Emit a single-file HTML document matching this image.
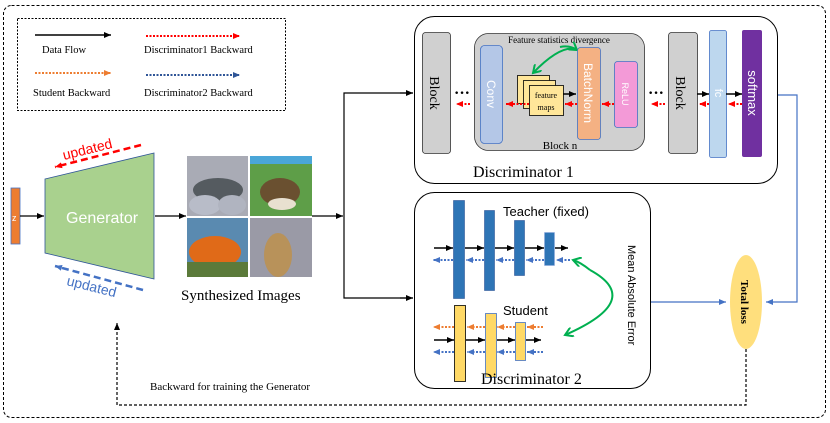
<!DOCTYPE html>
<html><head><meta charset="utf-8"><style>
body{margin:0;background:#fff}
svg{display:block}
text{font-family:"Liberation Serif",serif}
.s{font-family:"Liberation Sans","DejaVu Sans",sans-serif}
</style></head><body>
<svg width="830" height="423" viewBox="0 0 830 423" xmlns="http://www.w3.org/2000/svg">
<defs>
<marker id="ak" markerWidth="8" markerHeight="8" refX="7" refY="4" orient="auto" markerUnits="userSpaceOnUse"><path d="M0,1 L7,4 L0,7z" fill="#000"/></marker>
<marker id="ar" markerWidth="8" markerHeight="8" refX="7" refY="4" orient="auto" markerUnits="userSpaceOnUse"><path d="M0,1 L7,4 L0,7z" fill="#f00"/></marker>
<marker id="ao" markerWidth="8" markerHeight="8" refX="7" refY="4" orient="auto" markerUnits="userSpaceOnUse"><path d="M0,1 L7,4 L0,7z" fill="#ed7d31"/></marker>
<marker id="ab" markerWidth="8" markerHeight="8" refX="7" refY="4" orient="auto" markerUnits="userSpaceOnUse"><path d="M0,1 L7,4 L0,7z" fill="#4472c4"/></marker>
<marker id="ad" markerWidth="8" markerHeight="8" refX="7" refY="4" orient="auto" markerUnits="userSpaceOnUse"><path d="M0,1 L7,4 L0,7z" fill="#2f5597"/></marker>
<marker id="ag" markerWidth="10" markerHeight="10" refX="8" refY="5" orient="auto" markerUnits="userSpaceOnUse"><path d="M0,0 L8,5 L0,10" fill="none" stroke="#00b050" stroke-width="2"/></marker>
</defs>
<rect x="3.5" y="5.5" width="822" height="412" rx="8" fill="none" stroke="#000" stroke-dasharray="3,2"/>
<rect x="17.5" y="18.5" width="268" height="92" fill="none" stroke="#000" stroke-dasharray="2,1.5"/>
<line x1="35" y1="35" x2="111" y2="35" stroke="#000" stroke-width="1.5" marker-end="url(#ak)"/>
<text x="42" y="53" font-size="10.5">Data Flow</text>
<line x1="146" y1="36" x2="240" y2="36" stroke="#f00" stroke-width="2" stroke-dasharray="2,1.5" marker-end="url(#ar)"/>
<text x="144" y="53" font-size="10.5">Discriminator1 Backward</text>
<line x1="35" y1="73" x2="111" y2="73" stroke="#ed7d31" stroke-width="2" stroke-dasharray="2,1.5" marker-end="url(#ao)"/>
<text x="33" y="96" font-size="10.5">Student Backward</text>
<line x1="146" y1="75" x2="240" y2="75" stroke="#2f5597" stroke-width="2" stroke-dasharray="2,1.5" marker-end="url(#ad)"/>
<text x="144" y="96" font-size="10.5">Discriminator2 Backward</text>
<rect x="11" y="188" width="9" height="56" fill="#ed7d31" stroke="#4472c4" stroke-width="0.8"/>
<text x="12" y="221" font-size="9" fill="#fff" class="s">z</text>
<line x1="20" y1="216" x2="44" y2="216" stroke="#000" stroke-width="1.2" marker-end="url(#ak)"/>
<polygon points="45,179 154,153 154,279 45,253" fill="#a9d18e" stroke="#2f5597" stroke-width="0.8"/>
<text x="66" y="223" font-size="16" fill="#fff" class="s">Generator</text>
<line x1="141" y1="145" x2="55" y2="167" stroke="#f00" stroke-width="2.5" stroke-dasharray="7,4" marker-end="url(#ar)"/>
<text x="64" y="160" font-size="14" fill="#f00" class="s" transform="rotate(-14 64 160)">updated</text>
<line x1="143" y1="290" x2="55" y2="266" stroke="#4472c4" stroke-width="2.5" stroke-dasharray="7,4" marker-end="url(#ab)"/>
<text x="66" y="285" font-size="14" fill="#4472c4" class="s" transform="rotate(14 66 285)">updated</text>
<line x1="155" y1="216" x2="186" y2="216" stroke="#000" stroke-width="1.2" marker-end="url(#ak)"/>
<rect x="187" y="156" width="61" height="60" fill="#a9abb5"/>
<ellipse cx="218" cy="190" rx="25" ry="12" fill="#555b60"/><ellipse cx="205" cy="205" rx="16" ry="10" fill="#b8bcc8"/><ellipse cx="232" cy="205" rx="14" ry="10" fill="#b0b4c0"/>
<rect x="250" y="156" width="62" height="60" fill="#5e9e48"/>
<rect x="250" y="156" width="62" height="8" fill="#4aa6d8"/>
<ellipse cx="280" cy="192" rx="20" ry="14" fill="#6a5030"/><ellipse cx="282" cy="204" rx="14" ry="6" fill="#e8e0d0"/>
<rect x="187" y="218" width="61" height="59" fill="#5a8ab0"/>
<ellipse cx="215" cy="252" rx="26" ry="16" fill="#e06a18"/><rect x="187" y="262" width="61" height="15" fill="#5b7a3a"/>
<rect x="250" y="218" width="62" height="59" fill="#9a9aa6"/>
<ellipse cx="278" cy="255" rx="14" ry="22" fill="#b8925a"/>
<text x="181" y="300" font-size="15">Synthesized Images</text>
<polyline points="312,216 343,216" fill="none" stroke="#000" stroke-width="1.2" marker-end="url(#ak)"/>
<polyline points="413,93 344,93 344,298 413,298" fill="none" stroke="#000" stroke-width="1.2"/>
<line x1="400" y1="93" x2="413" y2="93" stroke="#000" stroke-width="1.2" marker-end="url(#ak)"/>
<line x1="400" y1="298" x2="413" y2="298" stroke="#000" stroke-width="1.2" marker-end="url(#ak)"/>
<rect x="414.5" y="16.5" width="363" height="167" rx="20" fill="#fff" stroke="#000"/>
<rect x="422.5" y="32.5" width="28" height="121" rx="3" fill="#d0d0d0" stroke="#333" stroke-width="0.8"/>
<text transform="translate(430 93) rotate(90)" font-size="14" text-anchor="middle">Block</text>
<text x="454" y="98" font-size="16" font-weight="bold">···</text>
<line x1="470" y1="104" x2="456" y2="104" stroke="#f00" stroke-width="2" stroke-dasharray="2,1.5" marker-end="url(#ar)"/>
<rect x="474.5" y="33.5" width="170" height="117" rx="14" fill="#d0d0d0" stroke="#333" stroke-width="0.8"/>
<text x="559" y="43" font-size="9" text-anchor="middle">Feature statistics divergence</text>
<rect x="480.5" y="45.5" width="22" height="98" rx="4" fill="#b4c7e7" stroke="#4472c4" stroke-width="0.8"/>
<text transform="translate(487 94) rotate(90)" font-size="12" fill="#fff" text-anchor="middle" class="s">Conv</text>
<rect x="517.5" y="75.5" width="32" height="28" fill="#ffe699" stroke="#000" stroke-width="0.8"/>
<rect x="523.5" y="80.5" width="32" height="28" fill="#ffe699" stroke="#000" stroke-width="0.8"/>
<rect x="529.5" y="85.5" width="34" height="30" fill="#ffe699" stroke="#000" stroke-width="0.8"/>
<text x="546" y="98" font-size="8" text-anchor="middle">feature</text>
<text x="546" y="110" font-size="8" text-anchor="middle">maps</text>
<line x1="563" y1="94" x2="576" y2="94" stroke="#000" stroke-width="1.5" marker-end="url(#ak)"/>
<line x1="529" y1="104" x2="506" y2="104" stroke="#f00" stroke-width="2" stroke-dasharray="2,1.5" marker-end="url(#ar)"/>
<line x1="577" y1="104" x2="565" y2="104" stroke="#f00" stroke-width="2" stroke-dasharray="2,1.5" marker-end="url(#ar)"/>
<line x1="614" y1="104" x2="602" y2="104" stroke="#f00" stroke-width="2" stroke-dasharray="2,1.5" marker-end="url(#ar)"/>
<path d="M576,49 Q560,45 533,73" fill="none" stroke="#00b050" stroke-width="2" marker-end="url(#ag)"/>
<path d="M560,47 Q570,45 577,50" fill="none" stroke="#00b050" stroke-width="2" marker-end="url(#ag)"/>
<rect x="577.5" y="47.5" width="23" height="92" rx="3" fill="#f4b183" stroke="#4472c4" stroke-width="0.8"/>
<text transform="translate(584 93) rotate(90)" font-size="12" fill="#fff" text-anchor="middle" class="s">BatchNorm</text>
<rect x="614.5" y="61.5" width="23" height="66" rx="3" fill="#f39ad7" stroke="#4472c4" stroke-width="0.8"/>
<text transform="translate(622 94) rotate(90)" font-size="9" fill="#fff" text-anchor="middle" class="s">ReLU</text>
<text x="560" y="149" font-size="11" text-anchor="middle">Block n</text>
<text x="648" y="98" font-size="16" font-weight="bold">···</text>
<line x1="665" y1="104" x2="651" y2="104" stroke="#f00" stroke-width="2" stroke-dasharray="2,1.5" marker-end="url(#ar)"/>
<rect x="668.5" y="32.5" width="29" height="121" rx="3" fill="#d0d0d0" stroke="#333" stroke-width="0.8"/>
<text transform="translate(676 93) rotate(90)" font-size="14" text-anchor="middle">Block</text>
<line x1="697" y1="94" x2="709" y2="94" stroke="#000" stroke-width="1.5" marker-end="url(#ak)"/>
<line x1="709" y1="104" x2="699" y2="104" stroke="#f00" stroke-width="2" stroke-dasharray="2,1.5" marker-end="url(#ar)"/>
<rect x="709.5" y="30.5" width="17" height="127" rx="2" fill="#bdd7ee" stroke="#4472c4" stroke-width="0.8"/>
<text transform="translate(715 93) rotate(90)" font-size="11" fill="#fff" text-anchor="middle" class="s">fc</text>
<line x1="726" y1="94" x2="742" y2="94" stroke="#000" stroke-width="1.5" marker-end="url(#ak)"/>
<line x1="742" y1="104" x2="728" y2="104" stroke="#f00" stroke-width="2" stroke-dasharray="2,1.5" marker-end="url(#ar)"/>
<rect x="742" y="30" width="20" height="127" rx="2" fill="#7030a0"/>
<text transform="translate(748 93) rotate(90)" font-size="13" fill="#fff" text-anchor="middle" class="s">softmax</text>
<text x="473" y="177" font-size="16">Discriminator 1</text>
<rect x="414.5" y="192.5" width="236" height="196" rx="20" fill="#fff" stroke="#000"/>
<text x="503" y="216" font-size="13" class="s">Teacher (fixed)</text>
<rect x="453.5" y="200.5" width="11" height="98" fill="#2e75b6" stroke="#2f5597" stroke-width="0.6"/>
<rect x="484.5" y="210.5" width="10" height="80" fill="#2e75b6" stroke="#2f5597" stroke-width="0.6"/>
<rect x="514.5" y="220.5" width="10" height="55" fill="#2e75b6" stroke="#2f5597" stroke-width="0.6"/>
<rect x="544.5" y="232.5" width="10" height="33" fill="#2e75b6" stroke="#8faadc" stroke-width="0.6"/>
<g stroke="#000" stroke-width="1.5">
<line x1="434" y1="248" x2="453" y2="248" marker-end="url(#ak)"/><line x1="465" y1="248" x2="484" y2="248" marker-end="url(#ak)"/><line x1="495" y1="248" x2="514" y2="248" marker-end="url(#ak)"/><line x1="525" y1="248" x2="544" y2="248" marker-end="url(#ak)"/><line x1="555" y1="248" x2="568" y2="248" marker-end="url(#ak)"/>
</g>
<g stroke="#4472c4" stroke-width="2" stroke-dasharray="2,1.5">
<line x1="453" y1="260" x2="433" y2="260" marker-end="url(#ab)"/><line x1="484" y1="260" x2="466" y2="260" marker-end="url(#ab)"/><line x1="514" y1="260" x2="496" y2="260" marker-end="url(#ab)"/><line x1="544" y1="260" x2="526" y2="260" marker-end="url(#ab)"/><line x1="570" y1="260" x2="556" y2="260" marker-end="url(#ab)"/>
</g>
<text x="503" y="315" font-size="13" class="s">Student</text>
<rect x="454.5" y="305.5" width="11" height="76" fill="#ffd966" stroke="#000" stroke-width="0.8"/>
<rect x="485.5" y="313.5" width="11" height="64" fill="#ffd966" stroke="#4472c4" stroke-width="0.8"/>
<rect x="515.5" y="322.5" width="10" height="38" fill="#ffd966" stroke="#4472c4" stroke-width="0.8"/>
<g stroke="#ed7d31" stroke-width="2" stroke-dasharray="2,1.5">
<line x1="454" y1="327" x2="433" y2="327" marker-end="url(#ao)"/><line x1="485" y1="327" x2="467" y2="327" marker-end="url(#ao)"/><line x1="515" y1="327" x2="497" y2="327" marker-end="url(#ao)"/><line x1="543" y1="327" x2="527" y2="327" marker-end="url(#ao)"/>
</g>
<g stroke="#000" stroke-width="1.5">
<line x1="434" y1="340" x2="454" y2="340" marker-end="url(#ak)"/><line x1="466" y1="340" x2="485" y2="340" marker-end="url(#ak)"/><line x1="497" y1="340" x2="515" y2="340" marker-end="url(#ak)"/><line x1="526" y1="340" x2="541" y2="340" marker-end="url(#ak)"/>
</g>
<g stroke="#4472c4" stroke-width="2" stroke-dasharray="2,1.5">
<line x1="454" y1="352" x2="433" y2="352" marker-end="url(#ab)"/><line x1="485" y1="352" x2="467" y2="352" marker-end="url(#ab)"/><line x1="515" y1="352" x2="497" y2="352" marker-end="url(#ab)"/><line x1="543" y1="352" x2="527" y2="352" marker-end="url(#ab)"/>
</g>
<path d="M590,270 Q645,300 565,335" fill="none" stroke="#00b050" stroke-width="2" marker-end="url(#ag)"/>
<path d="M590,270 Q580,262 573,260" fill="none" stroke="#00b050" stroke-width="2" marker-end="url(#ag)"/>
<text transform="translate(628 245) rotate(90)" font-size="11" class="s">Mean Absolute Error</text>
<text x="481" y="384" font-size="16">Discriminator 2</text>
<line x1="651" y1="302" x2="726" y2="302" stroke="#4472c4" stroke-width="1.2" marker-end="url(#ab)"/>
<polyline points="778,95 797,95 797,302 766,302" fill="none" stroke="#4472c4" stroke-width="1.2" marker-end="url(#ab)"/>
<ellipse cx="746" cy="302" rx="16" ry="47" fill="#ffd966" opacity="0.85"/>
<text transform="translate(741 302) rotate(90)" font-size="11" font-weight="bold" text-anchor="middle">Total  loss</text>
<polyline points="746,349 746,405 117,405 117,323" fill="none" stroke="#000" stroke-width="1.2" stroke-dasharray="3,2" marker-end="url(#ak)"/>
<text x="150" y="390" font-size="11">Backward for training the Generator</text>
</svg>
</body></html>
